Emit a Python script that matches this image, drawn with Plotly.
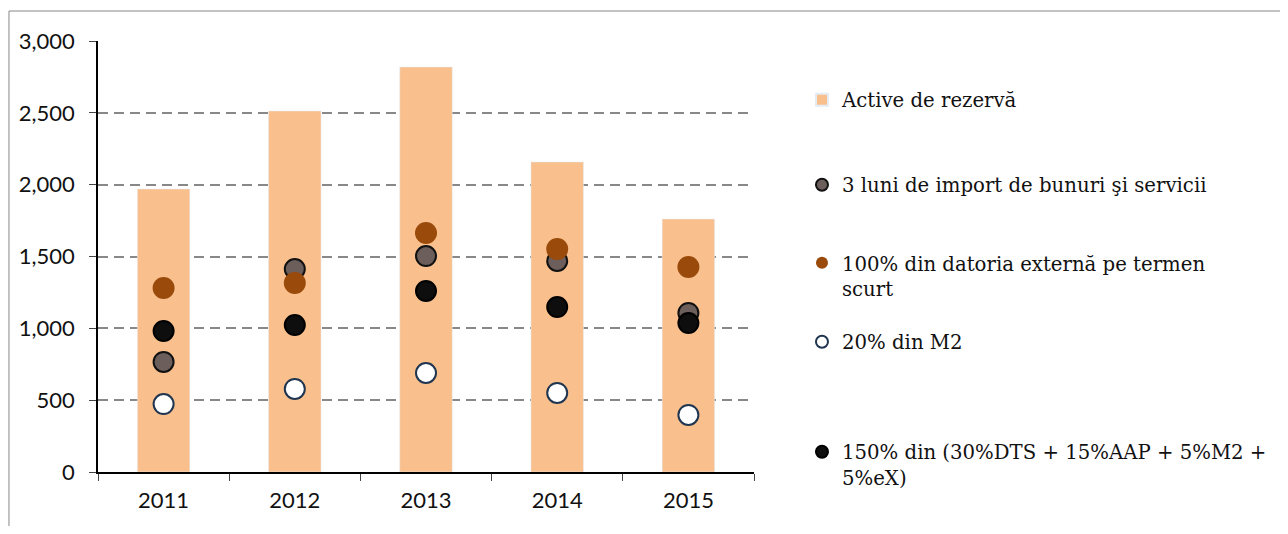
import plotly.graph_objects as go

years = ["2011", "2012", "2013", "2014", "2015"]
active_rezerva = [1970, 2513, 2819, 2158, 1761]
import_3_luni = [766, 1413, 1503, 1469, 1107]
datorie_termen_scurt = [1281, 1315, 1664, 1552, 1427]
m2_20 = [473, 578, 689, 550, 397]
compus_150 = [981, 1023, 1260, 1148, 1037]

LEGEND_FONT = dict(family="DejaVu Serif", size=19.7, color="#111")
AXIS_FONT = dict(family="Lato, Liberation Sans, sans-serif", size=22, color="#111")

fig = go.Figure()
fig.add_trace(go.Bar(x=years, y=active_rezerva, name="Active de rezervă", marker_color="#F9C08E",
                     width=0.4, legend="legend"))
fig.add_trace(go.Scatter(x=years, y=import_3_luni, name="3 luni de import de bunuri şi servicii", mode="markers",
                         marker=dict(size=20, color="#6B5E5B", line=dict(color="#111", width=2)), legend="legend2"))
fig.add_trace(go.Scatter(x=years, y=datorie_termen_scurt, name="100% din datoria externă pe termen<br>scurt",
                         mode="markers", marker=dict(size=22, color="#9A4A0A", line=dict(width=0)), legend="legend3"))
fig.add_trace(go.Scatter(x=years, y=m2_20, name="20% din M2", mode="markers",
                         marker=dict(size=20, color="white", line=dict(color="#1F3550", width=2)), legend="legend4"))
fig.add_trace(go.Scatter(x=years, y=compus_150, name="150% din (30%DTS + 15%AAP + 5%M2 +<br>5%eX)", mode="markers",
                         marker=dict(size=20, color="#0E0E0E", line=dict(color="#000", width=2)), legend="legend5"))

# each entry gets its own legend so the uneven spacing of the original can be kept;
# container refs so the legends don't squeeze the plot area
def leg(y):
    return dict(x=0.6242, y=y, xref="container", yref="container", xanchor="left", yanchor="middle",
                font=LEGEND_FONT, valign="top", bgcolor="rgba(0,0,0,0)", itemsizing="constant")

fig.update_layout(
    width=1272, height=518,
    margin=dict(l=90, r=526, t=33, b=54),
    plot_bgcolor="white", paper_bgcolor="white",
    showlegend=True,
    legend=leg(0.8224), legend2=leg(0.6583), legend3=leg(0.4826), legend4=leg(0.3552), legend5=leg(0.1178),
    xaxis=dict(type="category", showline=True, linecolor="black", linewidth=1.5, ticks="outside",
               tickson="boundaries", ticklen=7, tickcolor="#444", tickfont=AXIS_FONT, ticklabelstandoff=8,
               showgrid=False),
    yaxis=dict(range=[0, 3000], dtick=500, tickformat=",d", showline=True, linecolor="black", linewidth=1.5,
               ticks="outside", ticklen=7, tickcolor="#444", tickfont=AXIS_FONT, ticklabelstandoff=10,
               showgrid=True, gridcolor="#888", gridwidth=2, griddash="10px,6px", zeroline=False),
    shapes=[dict(type="rect", xref="paper", yref="paper", x0=-0.1357, x1=1.8125, y0=-0.16, y1=1.0696,
                 line=dict(color="#888", width=1), fillcolor="rgba(0,0,0,0)", layer="below")],
)

fig.write_html("out.html")
